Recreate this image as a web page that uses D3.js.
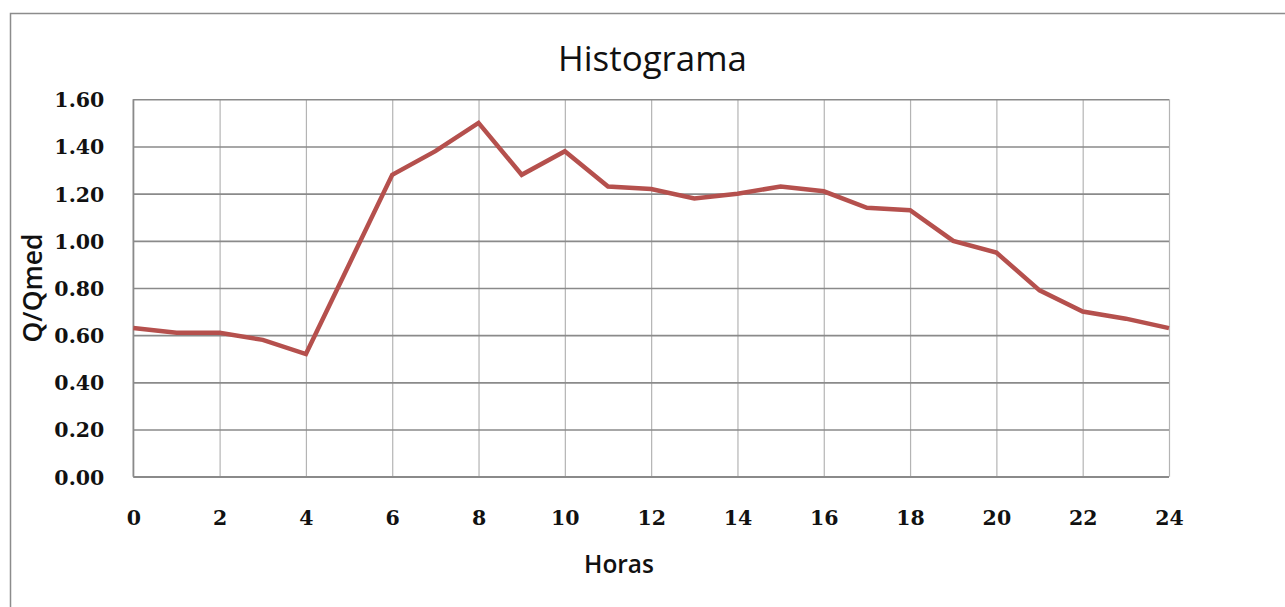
<!DOCTYPE html>
<html>
<head>
<meta charset="utf-8">
<script src="https://cdn.jsdelivr.net/npm/d3@7"></script>
<style>
  html, body { margin: 0; padding: 0; background: #fff; }
  svg { display: block; }
</style>
</head>
<body>
<svg id="chart" width="1285" height="607"></svg>
<script>
const hours = [0,1,2,3,4,5,6,7,8,9,10,11,12,13,14,15,16,17,18,19,20,21,22,23,24];
const ratio = [0.63,0.61,0.61,0.58,0.52,0.90,1.28,1.38,1.50,1.28,1.38,1.23,1.22,1.18,1.20,1.23,1.21,1.14,1.13,1.00,0.95,0.79,0.70,0.67,0.63];
const xTicks = [0,2,4,6,8,10,12,14,16,18,20,22,24];
const yTicks = [0,0.2,0.4,0.6,0.8,1.0,1.2,1.4,1.6];
const titleText = "Histograma";
const xLabel = "Horas";
const yLabel = "Q/Qmed";

const svg = d3.select("#chart");
const m = {left: 133.3, top: 99.3, right: 1169, bottom: 476.7};

svg.append("rect").attr("x", 10.5).attr("y", 13.5).attr("width", 1300).attr("height", 700)
  .attr("fill", "none").attr("stroke", "#8c8c8c").attr("stroke-width", 1.5);

const x = d3.scaleLinear().domain([0, 24]).range([m.left, m.right]);
const y = d3.scaleLinear().domain([0, 1.6]).range([m.bottom, m.top]);

// vertical gridlines
svg.append("g").attr("transform", `translate(0,${m.bottom})`)
  .call(d3.axisBottom(x).tickValues(xTicks).tickSize(-(m.bottom - m.top)).tickFormat(""))
  .call(g => g.select(".domain").remove())
  .call(g => g.selectAll(".tick line").attr("stroke", "#b4b4b4").attr("stroke-width", 1.2));

// horizontal gridlines
svg.append("g").attr("transform", `translate(${m.left},0)`)
  .call(d3.axisLeft(y).tickValues(yTicks).tickSize(-(m.right - m.left)).tickFormat(""))
  .call(g => g.select(".domain").remove())
  .call(g => g.selectAll(".tick line").attr("stroke", "#8a8a8a").attr("stroke-width", 1.6));

// axis lines
svg.append("line").attr("x1", m.left).attr("x2", m.left).attr("y1", m.top).attr("y2", m.bottom)
  .attr("stroke", "#8a8a8a").attr("stroke-width", 1.6);
svg.append("line").attr("x1", m.left).attr("x2", m.right).attr("y1", m.bottom).attr("y2", m.bottom)
  .attr("stroke", "#8a8a8a").attr("stroke-width", 1.6);

// tick labels
const tickFont = "'DejaVu Serif', serif";
svg.append("g").attr("transform", `translate(${m.left},0)`)
  .call(d3.axisLeft(y).tickValues(yTicks).tickSize(0).tickPadding(29).tickFormat(d3.format(".2f")))
  .call(g => g.select(".domain").remove())
  .call(g => g.selectAll("text").attr("font-family", tickFont).attr("font-weight", "bold")
    .attr("font-size", 20.5).attr("fill", "#111").attr("dy", "0.36em"));

svg.append("g").attr("transform", `translate(0,${m.bottom})`)
  .call(d3.axisBottom(x).tickValues(xTicks).tickSize(0).tickPadding(0).tickFormat(d3.format("d")))
  .call(g => g.select(".domain").remove())
  .call(g => g.selectAll("text").attr("font-family", tickFont).attr("font-weight", "bold")
    .attr("font-size", 20.5).attr("fill", "#111").attr("y", 48).attr("dy", 0));

// line
const line = d3.line().x((d, i) => x(hours[i])).y(d => y(d));
svg.append("path").datum(ratio).attr("d", line)
  .attr("fill", "none").attr("stroke", "#b5504d").attr("stroke-width", 4.5)
  .attr("stroke-linejoin", "miter");

// title and labels
function fit(sel, target) {
  const w = sel.node().getComputedTextLength();
  const fs = parseFloat(sel.attr("font-size"));
  if (w > 0) sel.attr("font-size", fs * target / w);
}

const t = svg.append("text").attr("x", 652.5).attr("y", 71).attr("text-anchor", "middle")
  .attr("font-family", "'Open Sans', sans-serif").attr("font-weight", 500).attr("font-size", 30).attr("fill", "#111")
  .text(titleText);
fit(t, 189);

const xl = svg.append("text").attr("x", 619).attr("y", 573).attr("text-anchor", "middle")
  .attr("font-family", "'Open Sans', sans-serif").attr("font-weight", 600).attr("font-size", 22).attr("fill", "#111")
  .text(xLabel);
fit(xl, 70);

const yl = svg.append("text").attr("transform", "translate(42,288) rotate(-90)").attr("text-anchor", "middle")
  .attr("font-family", "'Open Sans', sans-serif").attr("font-weight", 600).attr("font-size", 24).attr("fill", "#111")
  .text(yLabel);
fit(yl, 109);
</script>
</body>
</html>
